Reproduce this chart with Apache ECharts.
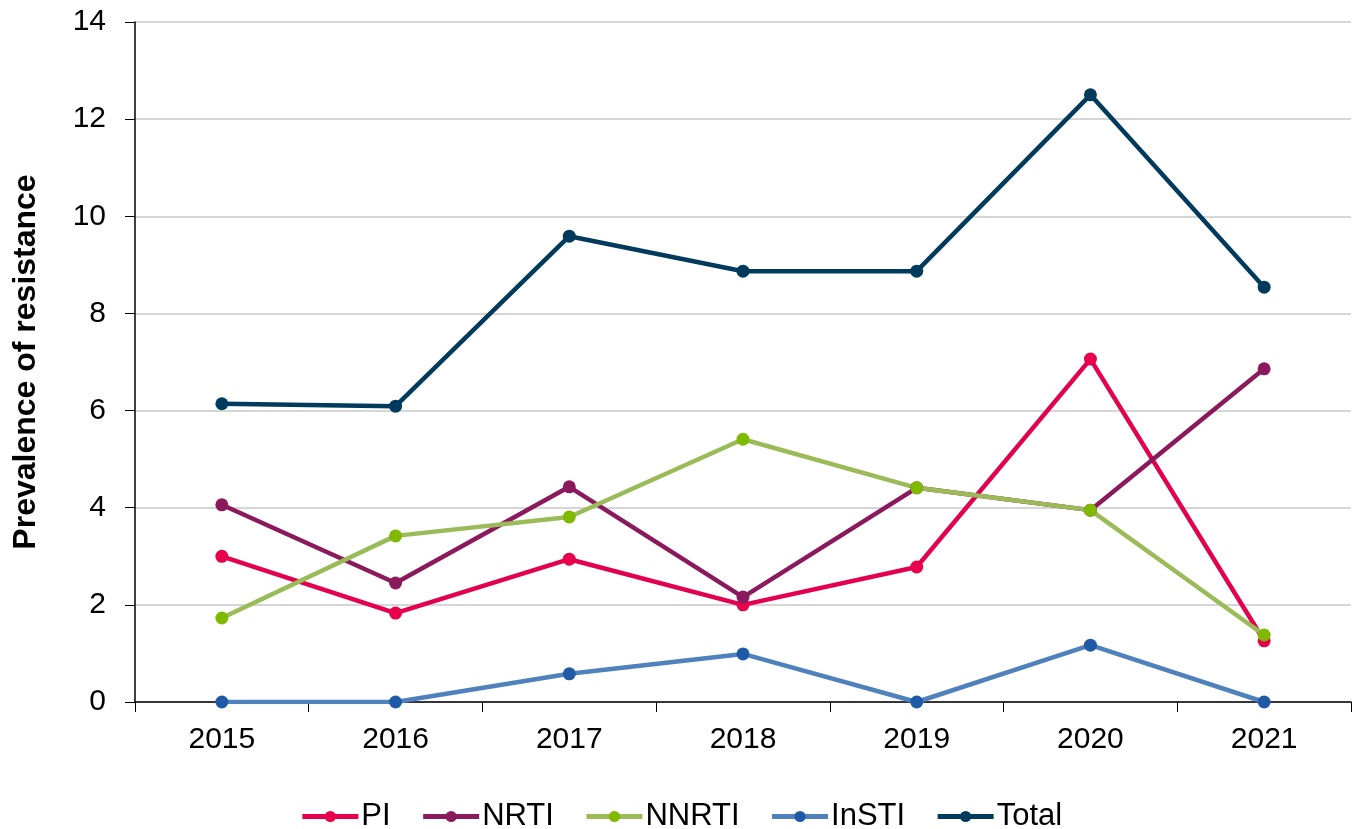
<!DOCTYPE html>
<html>
<head>
  <meta charset="utf-8">
  <title>Prevalence of resistance</title>
  <script src="https://cdn.jsdelivr.net/npm/echarts@6/dist/echarts.min.js"></script>
  <style>
    html, body { margin: 0; padding: 0; background: #fff; }
    #chart { width: 1362px; height: 829px; }
  </style>
</head>
<body>
  <div id="chart"></div>
  <script>
    var years = ['2015', '2016', '2017', '2018', '2019', '2020', '2021'];
    var pi = [3.0, 1.83, 2.94, 2.0, 2.78, 7.06, 1.26];
    var nrti = [4.06, 2.45, 4.43, 2.16, 4.41, 3.95, 6.86];
    var nnrti = [1.73, 3.42, 3.81, 5.41, 4.41, 3.95, 1.38];
    var insti = [0, 0, 0.58, 0.99, 0, 1.17, 0];
    var total = [6.14, 6.09, 9.59, 8.87, 8.87, 12.5, 8.54];

    var font = '"Liberation Sans", Arial, sans-serif';

    // line colour, marker colour
    function line(name, data, lineColor, dotColor) {
      return {
        name: name,
        type: 'line',
        data: data,
        symbol: 'circle',
        symbolSize: 13,
        lineStyle: { color: lineColor, width: 4.5 },
        itemStyle: { color: dotColor, borderWidth: 0 },
        emphasis: { disabled: true }
      };
    }

    var chart = echarts.init(document.getElementById('chart'));
    chart.setOption({
      animation: false,
      grid: { left: 135, right: 11, top: 22, bottom: 127, containLabel: false },
      legend: {
        top: 796,
        left: 'center',
        itemWidth: 56,
        itemHeight: 14,
        itemGap: 30,
        lineStyle: { width: 5 },
        textStyle: { fontFamily: font, fontSize: 31, color: '#000', padding: [0, 0, 0, -2] },
        data: ['PI', 'NRTI', 'NNRTI', 'InSTI', 'Total']
      },
      xAxis: {
        type: 'category',
        data: years,
        boundaryGap: true,
        axisLine: { lineStyle: { color: '#000', width: 1.5 } },
        axisTick: { show: true, length: 10, inside: false, lineStyle: { color: '#000' } },
        axisLabel: { fontFamily: font, fontSize: 30, color: '#000', margin: 23 }
      },
      yAxis: {
        type: 'value',
        min: 0,
        max: 14,
        interval: 2,
        name: 'Prevalence of resistance',
        nameLocation: 'middle',
        nameGap: 93,
        nameTextStyle: { fontFamily: font, fontSize: 32, fontWeight: 'bold', color: '#000' },
        axisLine: { show: true, lineStyle: { color: '#000', width: 1.5 } },
        axisTick: { show: true, length: 10, lineStyle: { color: '#000' } },
        axisLabel: { fontFamily: font, fontSize: 30, color: '#000', margin: 29 },
        splitLine: { lineStyle: { color: '#c8c8c8', width: 1.5 } }
      },
      series: [
        line('PI', pi, '#e3004f', '#e8004c'),
        line('NRTI', nrti, '#8b1a5c', '#8b1a5c'),
        line('NNRTI', nnrti, '#9bbb59', '#7fba00'),
        line('InSTI', insti, '#4f81bd', '#1f5aa6'),
        line('Total', total, '#003a5d', '#003a5d')
      ]
    });
  </script>
</body>
</html>
